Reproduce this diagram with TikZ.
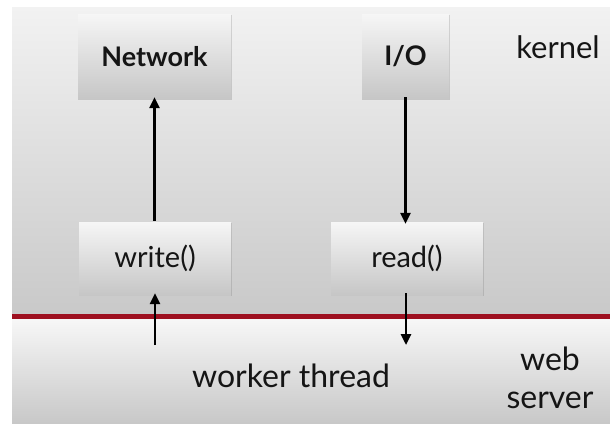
\documentclass[tikz,border=0pt]{standalone}
\usepackage{fontspec}
\setmainfont{Lato}
\usetikzlibrary{arrows.meta,shadows}
\definecolor{panelTop}{HTML}{F2F2F2}
\definecolor{panelBot}{HTML}{C9C9C9}
\definecolor{lowTop}{HTML}{F7F7F7}
\definecolor{lowBot}{HTML}{C8C8C8}
\definecolor{boxTop}{HTML}{F6F6F6}
\definecolor{boxBot}{HTML}{C6C6C6}
\definecolor{sepred}{HTML}{9E1020}
\definecolor{txt}{HTML}{151515}
\tikzset{
  boxnode/.style={rectangle, minimum height=85pt, inner sep=0pt,
    top color=boxTop, bottom color=boxBot, draw=none, text=txt,
    drop shadow={shadow xshift=0.6pt, shadow yshift=-1.2pt, opacity=0.25, fill=black!60}},
  lbl/.style={text=txt, inner sep=0pt},
  conn/.style={-{Triangle[length=11pt,width=10pt]}, line width=2.6pt, black},
}
\begin{document}
\begin{tikzpicture}[x=1pt,y=-1pt]
\useasboundingbox (0,0) rectangle (610,423);
\fill[white] (0,0) rectangle (610,423);
% panels
\shade[top color=panelTop, bottom color=panelBot] (12,7) rectangle (610,314);
\shade[top color=lowTop, bottom color=lowBot] (12,319) rectangle (610,423);
\fill[sepred] (12,313.5) rectangle (610,318.5);
% boxes
\node[boxnode, minimum width=153pt, font=\fontsize{27}{30}\selectfont\bfseries] (net) at (154.5,56.5) {Network};
\node[boxnode, minimum width=87pt, font=\fontsize{27}{30}\selectfont\bfseries] (io) at (405.5,56.5) {I/O};
\node[boxnode, minimum width=152pt, minimum height=73pt, font=\fontsize{29}{32}\selectfont] (wr) at (155,258.5) {write()};
\node[boxnode, minimum width=152pt, minimum height=73pt, font=\fontsize{29}{32}\selectfont] (rd) at (407,258.5) {read()};
% labels
\node[lbl, font=\fontsize{31}{34}\selectfont] (kern) at (558,47) {kernel};
\node[lbl, font=\fontsize{32}{35}\selectfont] (wt) at (291,376) {worker thread};
\node[lbl, font=\fontsize{32}{38}\selectfont, align=center] (ws) at (550,378) {web\\server};
% connectors
\coordinate (wsrc) at (155,345);
\coordinate (rdst) at (406,345);
\draw[conn] (wr.north -| net.south) ++(0,-1) coordinate (wtop) (wtop) -- ([yshift=2pt]net.south);
\draw[conn] ([yshift=2pt]io.south) -- ([yshift=-2pt]io.south |- rd.north);
\draw[conn] (wsrc) -- ([yshift=2pt]wr.south);
\draw[conn] ([yshift=2pt]rd.south -| rdst) -- (rdst);
\end{tikzpicture}
\end{document}
